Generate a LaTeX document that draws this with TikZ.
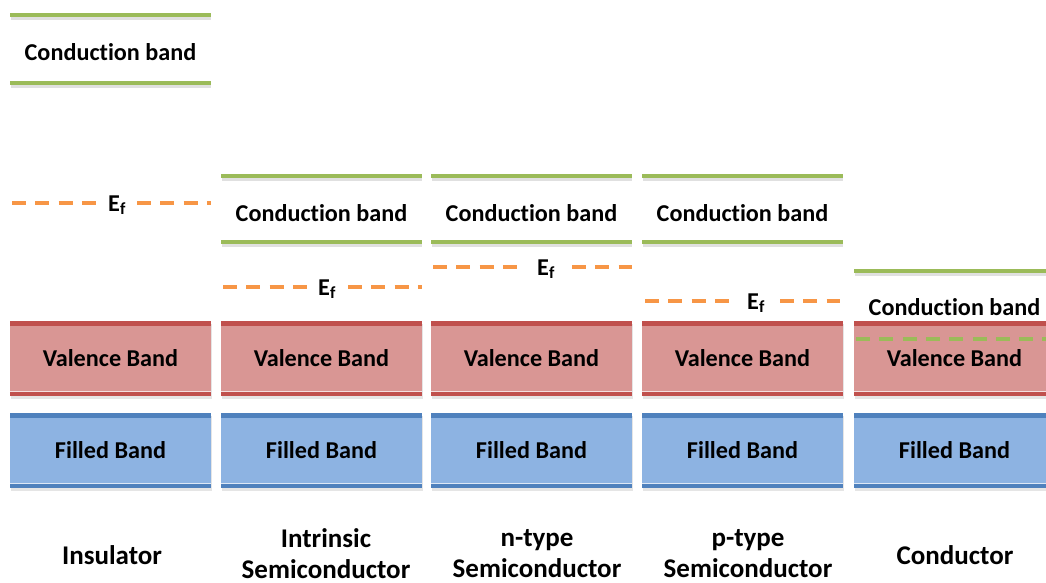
\documentclass[tikz,border=0pt]{standalone}
\usepackage{fontspec}
\setmainfont{Carlito}[Ligatures=NoCommon]
\definecolor{cbgreen}{HTML}{9BBB59}
\definecolor{eforange}{HTML}{F79646}
\definecolor{valfill}{HTML}{D99694}
\definecolor{valedge}{HTML}{C0504D}
\definecolor{filfill}{HTML}{8DB3E2}
\definecolor{filedge}{HTML}{4F81BD}
\tikzset{
  lbl/.style={font=\fontsize{24.2}{28}\selectfont\bfseries, inner sep=0pt},
  biglbl/.style={font=\fontsize{27}{31}\selectfont\bfseries, inner sep=0pt},
  cbline/.style={draw=cbgreen, line width=4pt},
  cbshadow/.style={draw=black, opacity=0.12, line width=3pt},
  efline/.style={draw=eforange, line width=4pt, dash pattern=on 14pt off 9.3pt},
  conddash/.style={draw=cbgreen, line width=4pt, dash pattern=on 14pt off 9.3pt},
  bandbox/.style n args={2}{fill=#1, minimum width=201pt, minimum height=75pt, inner sep=0pt, lbl,
    path picture={
      \fill[#2] (path picture bounding box.north west) rectangle ([yshift=-5pt]path picture bounding box.north east);
      \fill[#2] (path picture bounding box.south west) rectangle ([yshift=4pt]path picture bounding box.south east);
      \draw[white, opacity=0.7, line width=0.8pt] ([yshift=4.6pt]path picture bounding box.south west) -- ([yshift=4.6pt]path picture bounding box.south east);
    }},
  valence/.style={bandbox={valfill}{valedge}},
  filled/.style={bandbox={filfill}{filedge}},
  boxshadow/.style={fill=black, opacity=0.1, minimum width=201pt, minimum height=75pt, inner sep=0pt},
}
\begin{document}
\begin{tikzpicture}[x=1pt,y=-1pt]
\useasboundingbox (0,0) rectangle (1046,582);
\clip (0,0) rectangle (1046,582);

% ---------- band boxes (shadows first) ----------
\foreach \c in {110.5,321.5,531.5,742.5,954.5}{
  \node[boxshadow] at (\c+1,361) {};
  \node[boxshadow] at (\c+1,453) {};
}
\node[valence] (v1) at (110.5,358.5) {Valence Band};
\node[valence] (v2) at (321.5,358.5) {Valence Band};
\node[valence] (v3) at (531.5,358.5) {Valence Band};
\node[valence] (v4) at (742.5,358.5) {Valence Band};
\node[valence] (v5) at (954.5,358.5) {Valence Band};
\node[filled] (f1) at (110.5,450.5) {Filled Band};
\node[filled] (f2) at (321.5,450.5) {Filled Band};
\node[filled] (f3) at (531.5,450.5) {Filled Band};
\node[filled] (f4) at (742.5,450.5) {Filled Band};
\node[filled] (f5) at (954.5,450.5) {Filled Band};

% ---------- conduction bands ----------
% insulator
\draw[cbshadow] (11,18) -- (211,18);
\draw[cbshadow] (11,86) -- (211,86);
\draw[cbline] (10,15) -- (211,15);
\draw[cbline] (10,83) -- (211,83);
\node[lbl] (c1) at (110.5,52) {Conduction band};
% semiconductors
\foreach \L/\n in {221/2,431/3,642/4}{
  \draw[cbshadow] (\L+1,179) -- (\L+201,179);
  \draw[cbshadow] (\L+1,245) -- (\L+201,245);
  \draw[cbline] (\L,176) -- (\L+201,176);
  \draw[cbline] (\L,242) -- (\L+201,242);
}
\node[lbl] (c2) at (321.5,213) {Conduction band};
\node[lbl] (c3) at (531.5,213) {Conduction band};
\node[lbl] (c4) at (742.5,213) {Conduction band};
% conductor
\draw[cbshadow] (855,274) -- (1046,274);
\draw[cbline] (854,271) -- (1046,271);
\node[lbl] (c5) at (954.5,307) {Conduction band};
\draw[conddash] (856,339) -- (1046,339);

% ---------- Fermi levels ----------
% insulator
\draw[efline] (12,203) -- (96,203);
\draw[efline] (137,203) -- (211,203);
\node[lbl, anchor=base west] (e1) at (108,211) {E\textsubscript{f}};
% intrinsic
\draw[efline] (223,287) -- (307,287);
\draw[efline] (348,287) -- (422,287);
\node[lbl, anchor=base west] (e2) at (318,295) {E\textsubscript{f}};
% n-type
\draw[efline] (433,267) -- (517,267);
\draw[efline] (572,267) -- (632,267);
\node[lbl, anchor=base west] (e3) at (537,275) {E\textsubscript{f}};
% p-type
\draw[efline] (645,301) -- (729,301);
\draw[efline] (780,301) -- (840,301);
\node[lbl, anchor=base west] (e4) at (747,309) {E\textsubscript{f}};

% ---------- column labels ----------
\node[biglbl] (t1) at (112,555) {Insulator};
\node[biglbl, align=center] (t2) at (326,554) {Intrinsic\\Semiconductor};
\node[biglbl, align=center] (t3) at (537,554) {n-type\\Semiconductor};
\node[biglbl, align=center] (t4) at (748,554) {p-type\\Semiconductor};
\node[biglbl] (t5) at (955,555) {Conductor};
\end{tikzpicture}
\end{document}
